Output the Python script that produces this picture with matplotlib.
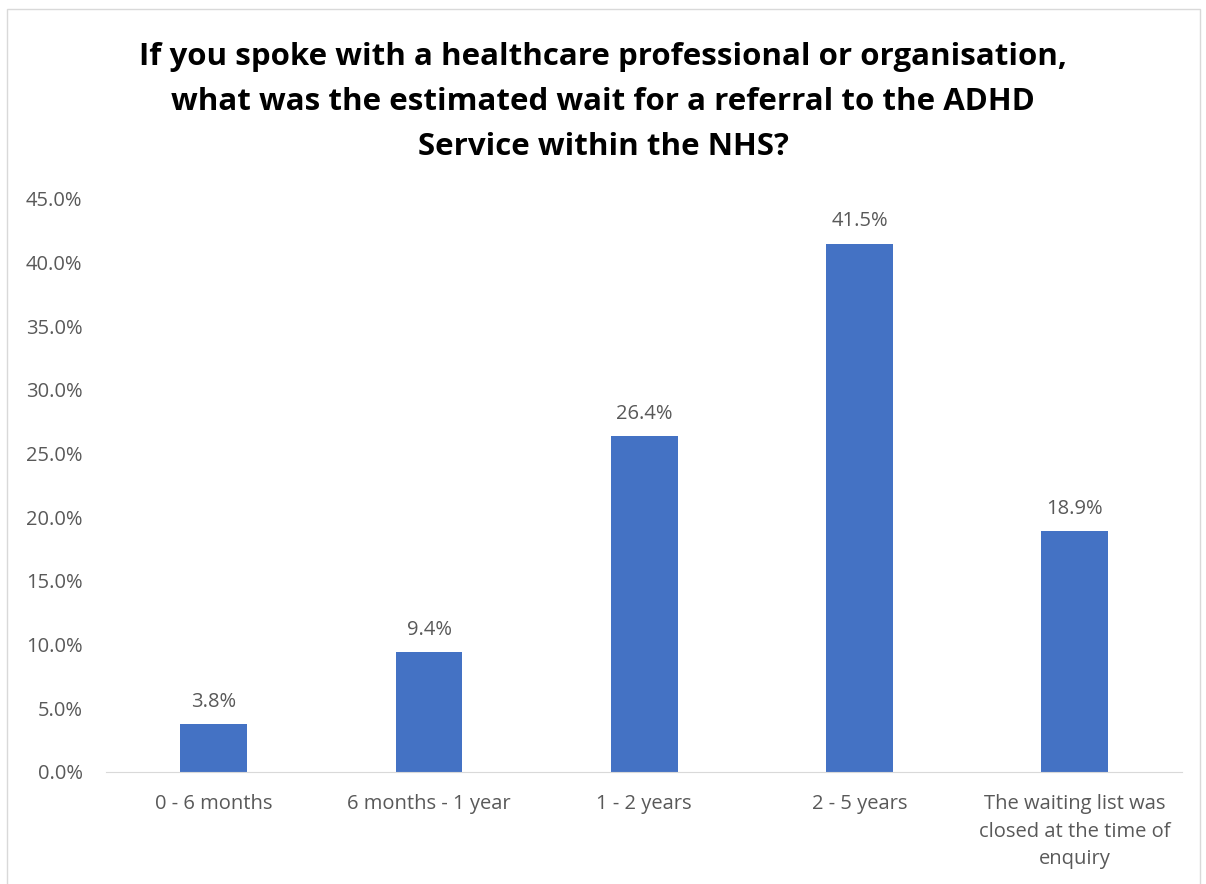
import matplotlib
matplotlib.use("Agg")
import matplotlib.pyplot as plt
from matplotlib.patches import Rectangle

categories = [
    "0 - 6 months",
    "6 months - 1 year",
    "1 - 2 years",
    "2 - 5 years",
    "The waiting list was\nclosed at the time of\nenquiry",
]
shares = [3.8, 9.4, 26.4, 41.5, 18.9]
yticks = [0, 5, 10, 15, 20, 25, 30, 35, 40, 45]

TITLE = ("If you spoke with a healthcare professional or organisation,\n"
         "what was the estimated wait for a referral to the ADHD\n"
         "Service within the NHS?")

BAR = "#4472C4"
TXT = "#595959"

plt.rcParams["font.family"] = ["Open Sans", "DejaVu Sans"]

fig = plt.figure(figsize=(12.06, 8.84), dpi=100)
# thin chart-area frame
fig.patches.append(Rectangle((7 / 1206, -0.1), 1193 / 1206, 1.1 - 9 / 884,
                             transform=fig.transFigure, fill=False,
                             edgecolor="#D9D9D9", linewidth=1.0))

ax = fig.add_axes([0.0880, 0.1267, 0.8925, 0.6482])
x = range(len(categories))
ax.bar(x, shares, width=0.31, color=BAR)
for xi, v in zip(x, shares):
    ax.text(xi, v + 0.95, f"{v:.1f}%", ha="center", va="bottom",
            fontsize=14.5, color=TXT)

ax.set_xlim(-0.5, len(categories) - 0.5)
ax.set_ylim(0, 45)
ax.set_yticks(yticks)
ax.set_yticklabels([f"{t:.1f}%" for t in yticks])
ax.set_xticks(list(x))
ax.set_xticklabels(categories, linespacing=1.5)
ax.tick_params(axis="both", length=0, labelsize=14.5, labelcolor=TXT)
ax.tick_params(axis="x", pad=16)
ax.tick_params(axis="y", pad=17)
for s in ("top", "right", "left"):
    ax.spines[s].set_visible(False)
ax.spines["bottom"].set_color("#D9D9D9")

fig.text(0.5, 0.952, TITLE, ha="center", va="top", fontsize=22.5,
         fontweight="bold", color="#000000", linespacing=1.64)

fig.savefig("out.png", dpi=100)
